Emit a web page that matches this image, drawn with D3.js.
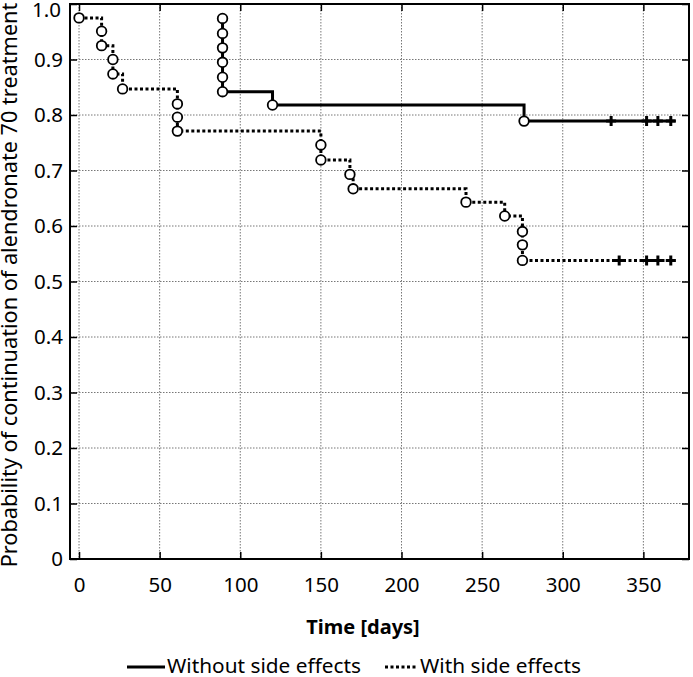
<!DOCTYPE html>
<html>
	<head>
		<meta charset="utf-8">
		<script src="https://d3js.org/d3.v7.min.js"></script>
		<style>
			body {
				margin: 0;
				background: #fff;
			}
			text {
				font-family: 'Noto Sans', sans-serif;
			}
		</style>
	</head>
	<body>
		<script type="text/javascript">
			// Kaplan-Meier data
			// Without side effects: event times and survival after each event
			var withoutTimes = [89, 89, 89, 89, 89, 89, 120, 276];
			var withoutSurv = [0.974, 0.947, 0.921, 0.895, 0.868, 0.842, 0.818, 0.789];
			var withoutCensored = [330, 352, 359, 367];

			// With side effects
			var withTimes = [0, 14, 14, 21, 21, 27, 61, 61, 61, 150, 150, 168, 170,
				240, 264, 275, 275, 275];
			var withSurv = [0.975, 0.951, 0.925, 0.900, 0.874, 0.847, 0.820, 0.796,
				0.771, 0.746, 0.719, 0.693, 0.667, 0.643, 0.618, 0.590, 0.566, 0.538];
			var withCensored = [335, 352, 359, 367];

			var followUpEnd = 370;

			var xTicks = [0, 50, 100, 150, 200, 250, 300, 350];
			var yTicks = [0, 0.1, 0.2, 0.3, 0.4, 0.5, 0.6, 0.7, 0.8, 0.9, 1.0];

			function draw() {
				"use strict";
				var width = 693,
					height = 677;
				var left = 70, right = 689, top = 4, bottom = 559;

				var svg = d3.select('body').append('svg')
					.attr('width', width)
					.attr('height', height);

				var x = d3.scaleLinear().domain([-5.6, 378.3]).range([left, right]);
				var y = d3.scaleLinear().domain([0, 1]).range([bottom, top]);

				// Dotted grid
				var grid = svg.append('g');
				grid.selectAll('line.gx')
					.data(xTicks)
					.enter().append('line')
					.attr('x1', function (d) { return x(d); })
					.attr('x2', function (d) { return x(d); })
					.attr('y1', top).attr('y2', bottom)
					.attr('stroke', '#777').attr('stroke-width', 1)
					.attr('stroke-dasharray', '1.5,1.5');
				grid.selectAll('line.gy')
					.data(yTicks.slice(1, -1))
					.enter().append('line')
					.attr('y1', function (d) { return y(d); })
					.attr('y2', function (d) { return y(d); })
					.attr('x1', left).attr('x2', right)
					.attr('stroke', '#777').attr('stroke-width', 1)
					.attr('stroke-dasharray', '1.5,1.5');

				// Axes with inward ticks on all four sides
				var fmt = function (d) { return d === 0 ? '0' : d3.format('.1f')(d); };
				var xb = svg.append('g')
					.attr('transform', 'translate(0,' + bottom + ')')
					.call(d3.axisBottom(x).tickValues(xTicks).tickSizeInner(-7).tickSizeOuter(0).tickPadding(18));
				var xt = svg.append('g')
					.attr('transform', 'translate(0,' + top + ')')
					.call(d3.axisTop(x).tickValues(xTicks).tickSizeInner(-7).tickSizeOuter(0).tickFormat(''));
				var yl = svg.append('g')
					.attr('transform', 'translate(' + left + ',0)')
					.call(d3.axisLeft(y).tickValues(yTicks).tickFormat(fmt).tickSizeInner(-7).tickSizeOuter(0).tickPadding(7));
				var yr = svg.append('g')
					.attr('transform', 'translate(' + right + ',0)')
					.call(d3.axisRight(y).tickValues(yTicks).tickSizeInner(-7).tickSizeOuter(0).tickFormat(''));
				[xb, xt, yl, yr].forEach(function (g) {
					g.select('.domain').remove();
					g.selectAll('line').attr('stroke', '#000').attr('stroke-width', 1.5);
					g.selectAll('text')
						.attr('fill', '#000')
						.style('font-family', "'Noto Sans', sans-serif")
						.style('font-size', '20.5px');
				});
				// Top label is nudged down so it stays inside the page
				yl.selectAll('.tick')
					.filter(function (d) { return d === 1; })
					.select('text')
					.attr('x', -9)
					.attr('dy', '0.32em')
					.attr('y', 6);

				// Frame
				svg.append('rect')
					.attr('x', left).attr('y', top)
					.attr('width', right - left).attr('height', bottom - top)
					.attr('fill', 'none').attr('stroke', '#000').attr('stroke-width', 2);

				// Build a step path through the events of one curve
				function stepPoints(times, surv) {
					var pts = [[times[0], surv[0]]];
					for (var i = 1; i < times.length; i++) {
						pts.push([times[i], surv[i - 1]]);
						pts.push([times[i], surv[i]]);
					}
					pts.push([followUpEnd, surv[surv.length - 1]]);
					return pts;
				}
				var line = d3.line()
					.x(function (d) { return x(d[0]); })
					.y(function (d) { return y(d[1]); });

				function drawCurve(times, surv, censored, dash) {
					var g = svg.append('g');
					g.append('path')
						.attr('d', line(stepPoints(times, surv)))
						.attr('fill', 'none')
						.attr('stroke', '#000')
						.attr('stroke-width', 3)
						.attr('stroke-dasharray', dash);
					var last = surv[surv.length - 1];
					// Censoring crosses
					g.selectAll('path.cross')
						.data(censored)
						.enter().append('path')
						.attr('d', function (d) {
							var cx = x(d), cy = y(last);
							return 'M' + (cx - 5) + ',' + cy + 'H' + (cx + 5) +
								'M' + cx + ',' + (cy - 5) + 'V' + (cy + 5);
						})
						.attr('stroke', '#000').attr('stroke-width', 3);
					// Event circles
					g.selectAll('circle')
						.data(times.map(function (t, i) { return [t, surv[i]]; }))
						.enter().append('circle')
						.attr('cx', function (d) { return x(d[0]); })
						.attr('cy', function (d) { return y(d[1]); })
						.attr('r', 4.8)
						.attr('fill', '#fff')
						.attr('stroke', '#000')
						.attr('stroke-width', 1.8);
				}
				drawCurve(withTimes, withSurv, withCensored, '3,2.5');
				drawCurve(withoutTimes, withoutSurv, withoutCensored, null);

				// Axis titles
				svg.append('text')
					.attr('x', 363).attr('y', 634)
					.attr('text-anchor', 'middle')
					.style('font-size', '20px').style('font-weight', 'bold')
					.text('Time [days]');
				svg.append('text')
					.attr('transform', 'translate(17,285) rotate(-90)')
					.attr('text-anchor', 'middle')
					.style('font-size', '21.7px')
					.text('Probability of continuation of alendronate 70 treatment');

				// Legend
				var legend = [
					{label: 'Without side effects', dash: null, x: 127, len: 38},
					{label: 'With side effects', dash: '3,2.5', x: 385, len: 33}
				];
				var lg = svg.selectAll('g.legend')
					.data(legend)
					.enter().append('g')
					.attr('transform', function (d) { return 'translate(' + d.x + ',667)'; });
				lg.append('line')
					.attr('x1', 0).attr('x2', function (d) { return d.len; })
					.attr('stroke', '#000').attr('stroke-width', 3)
					.attr('stroke-dasharray', function (d) { return d.dash; });
				lg.append('text')
					.attr('x', function (d) { return d.len + 2; })
					.attr('y', 6)
					.style('font-size', '20.8px')
					.text(function (d) { return d.label; });
			}
			draw();
		</script>
	</body>
</html>
